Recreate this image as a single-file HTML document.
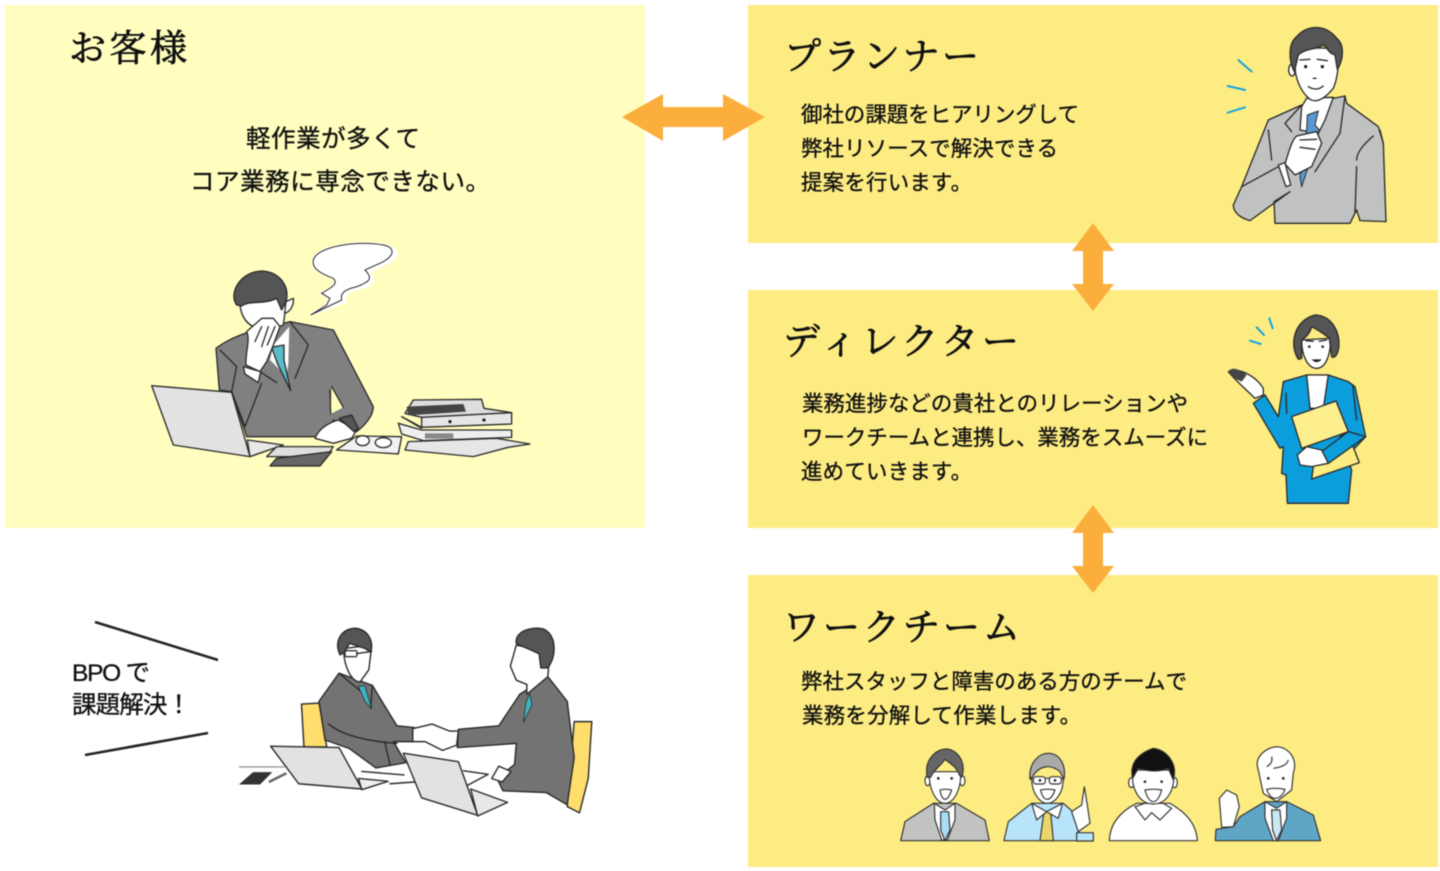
<!DOCTYPE html>
<html lang="ja">
<head>
<meta charset="utf-8">
<title>BPO</title>
<style>
html,body{margin:0;padding:0;background:#fff;width:1440px;height:871px;overflow:hidden}
svg{display:block;position:absolute;left:0;top:0;filter:blur(.45px)}
text{font-family:"Liberation Sans","Noto Sans CJK JP",sans-serif;fill:#111;stroke:#111;stroke-width:.35px}
.t{font-family:"Liberation Serif","Noto Serif CJK JP","Noto Sans CJK JP",serif;font-size:37px;stroke-width:.8px}
.b{font-size:21.4px}
.c{font-size:24.5px}
.ink{stroke:#2a2a2a;stroke-width:4;stroke-linejoin:round;stroke-linecap:round}
.l{fill:none;stroke:#2a2a2a;stroke-width:4;stroke-linecap:round;stroke-linejoin:round}
</style>
</head>
<body>
<svg width="1440" height="871" viewBox="0 0 1440 871" xmlns="http://www.w3.org/2000/svg">
<rect width="1440" height="871" fill="#fff"/>
<rect x="5" y="5" width="640" height="523" fill="#FFFEBE"/>
<rect x="748" y="5" width="690" height="238" fill="#FDEC82"/>
<rect x="748" y="290" width="690" height="238" fill="#FDEC82"/>
<rect x="748" y="575" width="690" height="292" fill="#FDEC82"/>

<polygon fill="#FBAE3C" points="622,117 663,94 663,107 723,107 723,94 765,117 723,141 723,127 663,127 663,141"/>
<polygon fill="#FBAE3C" points="1093,223 1114,251 1103,251 1103,284 1114,284 1093,311 1072,284 1083,284 1083,251 1072,251"/>
<polygon fill="#FBAE3C" points="1093,505 1114,533 1103,533 1103,566 1114,566 1093,593 1072,566 1083,566 1083,533 1072,533"/>

<text class="t" x="69" y="61" textLength="118">お客様</text>
<text class="c" x="246" y="147" textLength="174">軽作業が多くて</text>
<text class="c" x="190" y="190" textLength="300">コア業務に専念できない。</text>

<text class="t" x="784" y="69" textLength="195">プランナー</text>
<text class="b" x="801" y="122" textLength="278">御社の課題をヒアリングして</text>
<text class="b" x="801" y="156" textLength="257">弊社リソースで解決できる</text>
<text class="b" x="801" y="190" textLength="171">提案を行います。</text>

<text class="t" x="783" y="354" textLength="236">ディレクター</text>
<text class="b" x="802" y="411" textLength="386">業務進捗などの貴社とのリレーションや</text>
<text class="b" x="802" y="445" textLength="406">ワークチームと連携し、業務をスムーズに</text>
<text class="b" x="801" y="479" textLength="171">進めていきます。</text>

<text class="t" x="783" y="640" textLength="237">ワークチーム</text>
<text class="b" x="801" y="689" textLength="386">弊社スタッフと障害のある方のチームで</text>
<text class="b" x="802" y="723" textLength="279">業務を分解して作業します。</text>

<text class="c" x="72" y="681" textLength="78">BPO で</text>
<text class="c" x="72" y="713" textLength="119">課題解決！</text>
<line x1="95" y1="622" x2="218" y2="660" stroke="#2a2424" stroke-width="2.6"/>
<line x1="85" y1="755" x2="208" y2="733" stroke="#2a2424" stroke-width="2.6"/>

<!-- customer -->
<g transform="translate(130 230) scale(.3333)">
<path d="M550,90C560,50 680,30 760,45C810,55 810,85 770,100L715,125C740,150 730,165 690,175C660,180 640,190 645,215L620,225L542,255L590,225L600,205L575,190C610,170 625,160 610,145C570,130 545,115 550,90Z" fill="#fff" stroke="#fff" stroke-width="8"/>
<path d="M550,90C560,50 680,30 760,45C795,52 795,75 760,95L705,120C730,145 720,155 680,170C650,178 630,185 635,210L542,255L590,225L600,205L575,190C610,170 625,160 610,145C570,130 545,115 550,90Z" fill="#fff" stroke="#2a2a2a" stroke-width="3"/>
<path class="ink" fill="#808080" d="M258,355C290,330 320,320 345,310L480,275L610,300L730,530C730,560 700,590 680,605L610,570L600,620L350,620L340,590L305,485L268,480Z"/>
<polygon fill="#FFFEBE" points="605,470 640,532 602,552"/>
<path class="l" d="M605,470L640,532M602,552L600,480"/>
<path class="ink" fill="#fff" d="M330,225C335,270 360,300 420,300L460,285L470,210L440,205C400,225 360,210 330,225Z"/>
<path class="ink" fill="#fff" d="M468,215L490,205C492,225 482,245 464,250Z"/>
<path class="ink" fill="#555" d="M320,225C295,190 330,125 395,123C450,125 480,170 468,215L455,240L440,205C400,225 360,210 335,228Z"/>
<polygon fill="#fff" points="430,345 478,290 475,400 470,440 420,390"/>
<path class="ink" fill="#5BBCCB" d="M425,352L462,345L462,390L482,482L442,400Z"/>
<path class="ink" fill="#fff" d="M348,405C345,370 362,330 350,305L395,265L430,265L450,290L430,345L410,395L390,425Z"/>
<path class="ink" fill="#fff" d="M340,410L392,425L385,458L345,432Z"/>
<path class="l" d="M395,290L375,335M415,290L395,350M435,290L412,345"/>
<path class="l" d="M480,275L535,345L495,445M270,360L320,410L305,485L345,590L395,460M440,458L395,428"/>
<polygon class="ink" fill="#e2e2e2" points="65,467 305,487 360,680 130,645"/>
<polygon class="ink" fill="#e8e8e8" points="352,630 460,645 360,680"/>
<path class="ink" fill="#fff" d="M555,625C565,600 590,580 625,570L680,600L665,625L610,640Z"/>
<path class="ink" fill="#555" d="M628,565L665,555L685,595L672,605Z"/>
<polygon class="ink" fill="#dedede" points="410,680 440,650 610,650 590,680"/>
<polygon class="ink" fill="#666" points="420,708 440,685 605,665 570,708"/>
<polygon class="ink" fill="#f2f2f2" points="620,660 680,618 815,620 805,672"/>
<ellipse cx="698" cy="632" rx="20" ry="15" class="ink" fill="#fff"/><ellipse cx="760" cy="638" rx="24" ry="15" class="ink" fill="#fff"/>
<polygon class="ink" fill="#e6e6e6" points="825,660 835,635 1100,625 1200,642 1135,652 1030,680"/>
<polygon class="ink" fill="#efefef" points="805,580 875,600 1145,600 1145,622 880,632 815,612"/>
<rect x="885" y="610" width="85" height="16" fill="#888"/>
<polygon class="ink" fill="#e6e6e6" points="815,560 875,595 875,560 1145,548 1145,582 875,592"/>
<polygon class="ink" fill="#ddd" points="850,510 1055,508 1062,535 1145,548 875,562 825,550"/>
<polygon fill="#444" points="830,530 1000,522 1008,545 835,556"/>
<circle cx="960" cy="575" r="5" fill="#222"/><circle cx="1062" cy="570" r="5" fill="#222"/>
</g>

<!-- planner -->
<g transform="translate(1200 10) scale(.3333)">
<path d="M115,150L155,185M83,228L135,240M83,308L135,292" stroke="#12A5E0" stroke-width="6" fill="none" stroke-linecap="round"/>
<path class="ink" fill="#c0c1c1" d="M205,330L305,285L435,258L440,280L535,350L550,400L558,635L480,632L470,600L450,640L225,640L222,575L270,545L150,632C125,625 100,610 100,585L125,530Z"/>
<path class="ink" fill="#fff" d="M305,290L320,265L400,262L375,330L355,370L300,360Z"/>
<path fill="#5B98D2" stroke="#2a2a2a" stroke-width="3" stroke-linejoin="round" d="M322,315L355,303L345,345L358,360L335,440L305,530L300,500L320,360Z"/>
<path class="ink" fill="#fff" d="M283,130C280,190 295,240 330,268C350,280 375,265 400,235C415,200 418,150 412,125C380,105 310,115 283,130Z"/>
<ellipse cx="276" cy="180" rx="10" ry="18" class="ink" fill="#fff"/>
<path class="ink" fill="#555" d="M283,185C265,150 265,100 290,80C320,45 375,40 410,85C435,105 430,150 412,178L405,135C385,130 385,115 370,105C345,120 315,115 295,135Z"/>
<path class="l" d="M325,230Q350,245 370,228"/>
<circle cx="317" cy="170" r="5" fill="#222"/><circle cx="367" cy="170" r="5" fill="#222"/>
<path class="l" d="M300,150L330,148M352,148L382,152M340,205L348,205"/>
<path class="ink" fill="#fff" d="M255,462C265,430 275,390 290,378L350,365L365,400L335,470L285,495Z"/>
<path class="ink" fill="#fff" d="M235,465L255,458L272,525L258,530Z"/>
<path class="l" d="M125,530L235,470M345,485L420,370L435,258M305,285L255,340L275,365M205,360L215,450M520,378Q470,420 470,450M470,470L465,610M300,390L350,388M300,412L345,418M540,360L550,400"/>
</g>

<!-- director -->
<g transform="translate(1200 300) scale(.3333)">
<path d="M150,122L182,132M170,82L192,105M208,55L218,85" stroke="#12A5E0" stroke-width="6" fill="none" stroke-linecap="round"/>
<path class="ink" fill="#0C9DDC" d="M250,245L320,225L385,225L445,245L465,260L497,410L440,470L455,510L445,610L262,610L258,525L245,520L250,440L240,445L160,310L195,285L235,350Z"/>
<path class="ink" fill="#fff" d="M320,225L385,225L370,325L330,325Z"/>
<path class="ink" fill="#fff" d="M305,120C305,170 325,205 350,205C375,205 392,170 392,115Z"/>
<path class="ink" fill="#555" d="M295,178C265,130 285,60 345,45C395,45 425,100 415,150C410,170 400,175 395,170L388,115C370,100 345,85 335,80C330,100 315,115 305,120L305,175Z"/>
<path class="ink" fill="#fff" d="M85,215C110,200 165,225 190,265L190,285L165,295C140,270 110,245 85,215Z"/>
<path d="M85,215C95,200 115,205 140,225L125,245C110,240 95,230 85,215Z" fill="#444"/>
<polygon class="ink" fill="#FDEC82" points="335,537 478,488 440,390 340,500"/>
<polygon class="ink" fill="#FDEF8D" points="275,350 408,303 445,395 305,445"/>
<polygon class="ink" fill="#0C9DDC" points="365,455 445,395 497,410 385,490"/>
<path class="ink" fill="#fff" d="M292,465L320,440L365,450L385,490L335,500L300,495Z"/>
<path class="l" d="M258,280L260,340M458,255L470,360"/>
<path d="M335,178Q350,195 365,178Z" fill="#222"/>
<circle cx="328" cy="140" r="4" fill="#222"/><circle cx="368" cy="140" r="4" fill="#222"/>
<path class="l" d="M318,122L340,124M358,124L380,120"/>
</g>

<!-- meeting -->
<g transform="translate(60 610) scale(.351)">
<polygon class="ink" fill="#FFDE6E" points="688,268 738,265 760,390 695,390"/>
<polygon class="ink" fill="#FFDE6E" points="1465,318 1515,318 1505,480 1480,578 1445,560"/>
<path class="ink" fill="#737373" d="M795,180L890,215L920,265L960,330L1010,335L1005,375L950,375L985,435L900,450L825,395L755,370L738,260Z"/>
<path class="ink" fill="#fff" d="M808,110C808,160 830,205 855,205L880,170L888,100Z"/>
<path class="ink" fill="#555" d="M798,128C780,90 800,55 840,52C875,55 895,85 885,120L870,110L825,95L810,120Z"/>
<rect x="812" y="116" width="34" height="17" rx="4" fill="#fff" stroke="#333" stroke-width="4"/>
<path class="l" d="M846,124L888,118M795,180L855,230M890,215L885,280"/>
<polygon fill="#3FB3C3" stroke="#222" stroke-width="2" points="850,218 868,215 888,280 870,262"/>
<path class="ink" fill="#fff" d="M1005,338L1060,325L1110,345L1135,345L1130,385L1090,400L1040,375L1005,375Z"/>
<path class="ink" fill="#737373" d="M1135,340L1250,330L1310,240L1390,190L1445,260L1465,420L1445,555L1385,520L1262,515L1245,480L1295,440L1300,380L1132,392Z"/>
<path class="ink" fill="#fff" d="M1300,100L1283,160L1300,200L1330,212L1330,240L1390,190L1395,120Z"/>
<path class="ink" fill="#555" d="M1300,95C1295,60 1345,45 1380,55C1415,75 1415,130 1390,165L1370,165L1365,125C1345,115 1320,105 1300,95Z"/>
<polygon fill="#3FB3C3" stroke="#222" stroke-width="2" points="1328,262 1338,238 1345,270 1320,320"/>
<polygon class="ink" fill="#fff" points="1230,480 1250,445 1285,460 1260,490"/>
<line x1="510" y1="447" x2="640" y2="447" stroke="#999" stroke-width="4"/>
<polygon fill="#333" points="510,497 550,462 605,462 570,497"/>
<path d="M595,490L645,465" stroke="#666" stroke-width="7"/>
<polygon class="ink" fill="#e2e2e2" points="600,388 795,392 860,510 680,495"/>
<polygon class="ink" fill="#eee" points="850,480 935,488 860,512"/>
<polygon class="ink" fill="#e2e2e2" points="978,408 1135,432 1190,585 1030,535"/>
<polygon class="ink" fill="#e8e8e8" points="1170,510 1275,548 1190,587"/>
<path class="l" d="M1150,458L1220,468L1160,500M860,460L980,470M940,495L1010,490M765,325Q820,370 960,380M925,375L940,440"/>
</g>

<!-- team -->
<g transform="translate(890 740) scale(.3333)">
<g stroke="#333" stroke-width="3.5" stroke-linejoin="round">
<path fill="#c2c2c2" d="M32,302L45,245L130,190L200,190L285,240L298,302Z"/>
<path fill="#fff" d="M133,190L165,210L195,190L195,240L172,300L155,300L135,240Z"/>
<polygon fill="#A9DDF6" points="152,215 176,215 180,270 165,302 152,270"/>
<ellipse cx="113" cy="122" rx="8" ry="15" fill="#fff"/><ellipse cx="217" cy="122" rx="8" ry="15" fill="#fff"/>
<path fill="#fff" d="M118,95C115,150 140,190 165,190C190,190 215,150 212,95Z"/>
<path fill="#666" d="M112,112C100,60 140,25 170,27C205,30 230,70 215,112L208,105C200,80 180,70 165,58C150,80 130,90 122,112Z"/>
<path fill="#fff" d="M150,150Q165,145 185,150Q175,178 165,178Q155,178 150,150Z"/>
<path fill="#B7E4FA" d="M342,302L355,245L425,190L520,190L560,225L570,302Z"/>
<polygon fill="#E9D66B" points="462,215 482,215 490,302 450,302"/>
<polygon fill="#fff" points="425,190 470,215 518,190 505,235 470,215 440,240"/>
<path fill="#fff" d="M425,115C425,160 450,190 472,190C495,190 520,160 520,115Z"/>
<path fill="#aaa" d="M420,118C415,65 450,40 475,40C505,40 530,70 522,118L510,95C480,70 450,80 435,100Z"/>
<rect x="430" y="110" width="36" height="22" rx="8" fill="#fff"/><rect x="478" y="110" width="36" height="22" rx="8" fill="#fff"/>
<path fill="#fff" d="M452,150Q472,145 495,150Q485,178 472,178Q458,178 452,150Z"/>
<path fill="#fff" d="M545,215L575,195L583,140L592,195L600,250L565,275Z"/>
<rect x="560" y="278" width="50" height="25" fill="#B7E4FA"/>
<path fill="#fff" d="M658,302C660,250 690,215 740,190L840,190C885,215 920,250 922,302Z"/>
<polygon fill="#fff" points="735,200 765,190 820,190 845,205 810,240 785,218 765,240"/>
<ellipse cx="724" cy="128" rx="8" ry="15" fill="#fff"/><ellipse cx="854" cy="128" rx="8" ry="15" fill="#fff"/>
<path fill="#fff" d="M728,90C722,150 750,192 790,192C830,192 858,150 850,90Z"/>
<path fill="#111" d="M728,115C715,60 760,35 790,25C830,30 865,70 850,120L835,85C800,100 760,90 745,85Z"/>
<path fill="#fff" d="M765,150Q790,145 815,150Q805,185 790,185Q775,185 765,150Z"/>
<path fill="#5EA5C6" d="M976,302L978,268L1030,260L1050,230L1125,185L1190,185L1270,225L1292,302Z"/>
<path fill="#fff" d="M1125,185L1160,205L1190,185L1190,235L1165,302L1150,302L1125,235Z"/>
<polygon fill="#CDE8F5" points="1145,210 1170,210 1175,270 1160,302 1148,270"/>
<path fill="#fff" d="M1105,90C1090,50 1130,22 1160,20C1195,22 1225,55 1210,100L1205,150L1160,185L1120,160Z"/>
<path fill="none" d="M1130,80Q1150,70 1145,50M1150,85Q1190,80 1195,60"/>
<path fill="#fff" d="M1130,148Q1155,142 1185,148Q1175,175 1155,175Q1140,175 1130,148Z"/>
<path fill="#fff" d="M995,262L988,175L1010,150L1040,165L1048,200L1030,260Z"/>
</g>
<g fill="#222"><circle cx="145" cy="115" r="4"/><circle cx="185" cy="115" r="4"/><circle cx="450" cy="121" r="4"/><circle cx="495" cy="121" r="4"/><circle cx="765" cy="125" r="4"/><circle cx="815" cy="125" r="4"/><circle cx="1135" cy="115" r="4"/><circle cx="1180" cy="115" r="4"/></g>
</g>
</svg>
</body>
</html>
